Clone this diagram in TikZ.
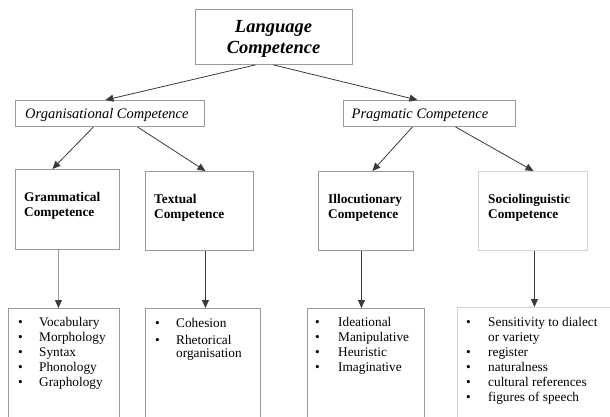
\documentclass[tikz,border=0pt]{standalone}
\usepackage{fontspec}
\setmainfont{Liberation Serif}
\usetikzlibrary{arrows.meta}
\definecolor{boxgray}{HTML}{9A9A9A}
\definecolor{lightgray2}{HTML}{D4D4D4}
\definecolor{linegray}{HTML}{3A3A3A}
\newcommand\lbul[1]{\makebox[#1][l]{\textbullet}}
\begin{document}
\begin{tikzpicture}[x=1pt,y=-1pt,
  box/.style={draw=boxgray,line width=0.9pt,inner sep=0pt,anchor=north west,rectangle},
  lightbox/.style={draw=lightgray2},
  arr/.style={draw=linegray,line width=0.8pt,-{Triangle[length=8pt,width=7pt,color=linegray,fill=linegray]}},
  title/.style={inner sep=0pt,anchor=base,font=\fontsize{18.5}{21.5}\selectfont\bfseries\itshape},
  ital/.style={inner sep=0pt,anchor=base west,font=\fontsize{14.5}{17}\selectfont\itshape},
  comp/.style={inner sep=0pt,anchor=base west,font=\fontsize{13.3}{15}\selectfont\bfseries},
  lst/.style={inner sep=0pt,anchor=base west,font=\fontsize{13.3}{15}\selectfont}
]
\useasboundingbox (0,0) rectangle (610,417);
\clip (0,0) rectangle (610,417);
\fill[white] (0,0) rectangle (610,417);

% boxes
\node[box,minimum width=157pt,minimum height=55pt] (lang) at (195,9) {};
\node[box,minimum width=189pt,minimum height=26pt] (org) at (15,100) {};
\node[box,minimum width=172pt,minimum height=26pt] (prag) at (343,100) {};
\node[box,minimum width=104pt,minimum height=80pt] (gram) at (15,169) {};
\node[box,minimum width=108pt,minimum height=79pt] (text) at (145,171) {};
\node[box,minimum width=95pt,minimum height=79pt] (illoc) at (318,171) {};
\node[box,lightbox,minimum width=109pt,minimum height=79pt] (socio) at (478,171) {};
\node[box,minimum width=111pt,minimum height=130pt] (vocab) at (8,308) {};
\node[box,minimum width=115pt,minimum height=130pt] (cohes) at (145,308) {};
\node[box,minimum width=117pt,minimum height=130pt] (idea) at (307,308) {};
\node[box,lightbox,minimum width=170pt,minimum height=130pt] (sens) at (457,307) {};

% texts
\node[title] (langt) at (273.5,32.5) {\begin{tabular}[t]{@{}c@{}}Language\\Competence\end{tabular}};
\node[ital] (orgt) at (25,118) {Organisational Competence};
\node[ital] (pragt) at (351.5,118) {Pragmatic Competence};
\node[comp] (gramt) at (24,201.5) {\begin{tabular}[t]{@{}l@{}}Grammatical\\Competence\end{tabular}};
\node[comp] (textt) at (154,203.5) {\begin{tabular}[t]{@{}l@{}}Textual\\Competence\end{tabular}};
\node[comp] (illoct) at (328,203.5) {\begin{tabular}[t]{@{}l@{}}Illocutionary\\Competence\end{tabular}};
\node[comp] (sociot) at (488,203.5) {\begin{tabular}[t]{@{}l@{}}Sociolinguistic\\Competence\end{tabular}};

\node[lst] (vocabt) at (18,326.5) {\begin{tabular}[t]{@{}l@{}}
\lbul{21pt}Vocabulary\\
\lbul{21pt}Morphology\\
\lbul{21pt}Syntax\\
\lbul{21pt}Phonology\\
\lbul{21pt}Graphology
\end{tabular}};
\node[lst] (cohest) at (155,327.5) {\begin{tabular}[t]{@{}l@{}}
\lbul{21pt}Cohesion\\[1.5pt]
\lbul{21pt}Rhetorical\\[-1.5pt]
\hspace{21pt}organisation
\end{tabular}};
\node[lst] (ideat) at (315,326.5) {\begin{tabular}[t]{@{}l@{}}
\lbul{23pt}Ideational\\
\lbul{23pt}Manipulative\\
\lbul{23pt}Heuristic\\
\lbul{23pt}Imaginative
\end{tabular}};
\node[lst] (senst) at (466,326.5) {\begin{tabular}[t]{@{}l@{}}
\lbul{22pt}Sensitivity to dialect\\
\hspace{22pt}or variety\\
\lbul{22pt}register\\
\lbul{22pt}naturalness\\
\lbul{22pt}cultural references\\
\lbul{22pt}figures of speech
\end{tabular}};

% connectors
\draw[arr] ([xshift=-18.5pt]lang.south) -- ([xshift=-4.5pt]org.north);
\draw[arr] ([xshift=-0.5pt]lang.south) -- ([xshift=-12pt]prag.north);
\draw[arr] ([xshift=-16.5pt]org.south) -- ([xshift=-15pt]gram.north);
\draw[arr] ([xshift=27.5pt]org.south) -- ([xshift=6pt]text.north);
\draw[arr] ([xshift=-17pt]prag.south) -- ([xshift=6.5pt]illoc.north);
\draw[arr] ([xshift=26pt]prag.south) -- ([xshift=0.5pt]socio.north);
\draw[arr,draw=boxgray] ([xshift=-9pt]gram.south) -- ([xshift=-9pt]gram.south |- vocab.north);
\draw[arr] ([xshift=6pt]text.south) -- ([xshift=6pt]text.south |- cohes.north);
\draw[arr] ([xshift=-4.5pt]illoc.south) -- ([xshift=-4.5pt]illoc.south |- idea.north);
\draw[arr] ([xshift=1.5pt]socio.south) -- ([xshift=1.5pt]socio.south |- sens.north);
\end{tikzpicture}
\end{document}
